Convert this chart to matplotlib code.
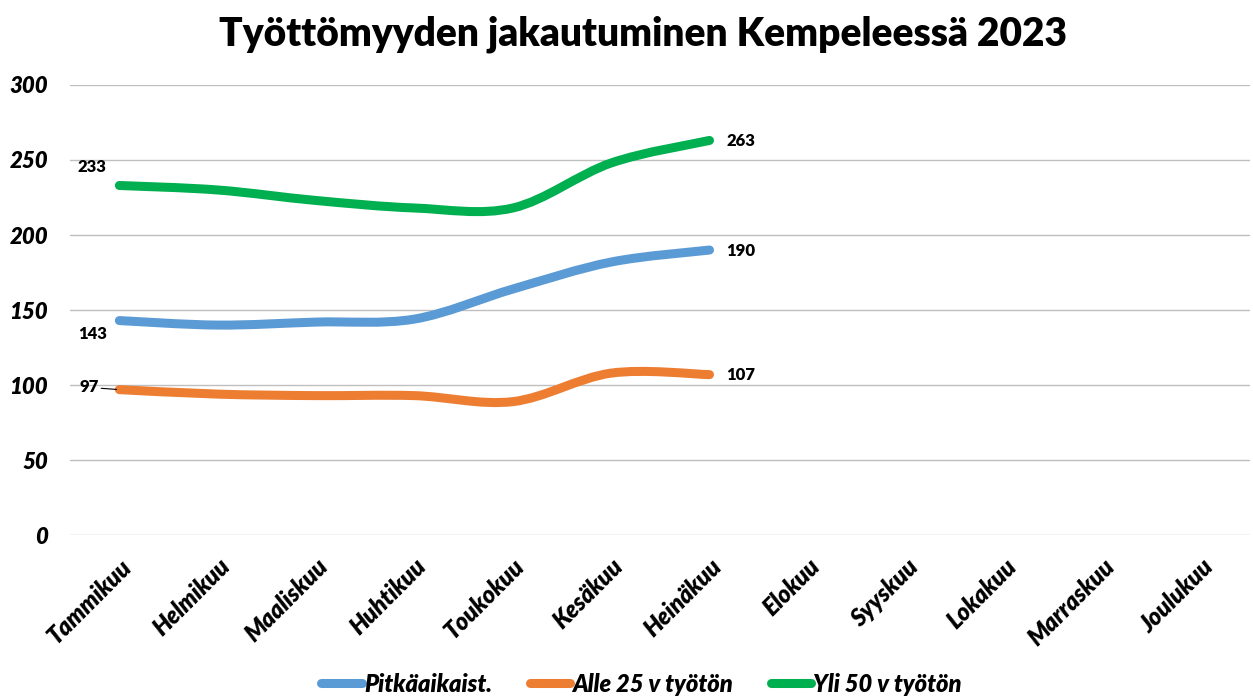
import matplotlib.pyplot as plt
from matplotlib.path import Path
from matplotlib.patches import PathPatch
from matplotlib.lines import Line2D

months = ["Tammikuu", "Helmikuu", "Maaliskuu", "Huhtikuu", "Toukokuu", "Kesäkuu",
          "Heinäkuu", "Elokuu", "Syyskuu", "Lokakuu", "Marraskuu", "Joulukuu"]
pitka = [143, 140, 142, 144, 164, 182, 190]
alle25 = [97, 94, 93, 93, 89, 108, 107]
yli50 = [233, 230, 223, 218, 218, 248, 263]

series_names = ["Pitkäaikaist.", "Alle 25 v työtön", "Yli 50 v työtön"]
colors = ["#5B9BD5", "#ED7D31", "#00B050"]

plt.rcParams['font.family'] = ['Lato', 'DejaVu Sans']

fig = plt.figure(figsize=(12.53, 6.96), dpi=100)
ax = fig.add_axes([0.056, 0.231, 0.942, 0.647])


def smooth_path(ys):
    # excel style smoothed line: bezier segments through the data points
    xs = list(range(len(ys)))
    verts = [(xs[0], ys[0])]
    codes = [Path.MOVETO]
    n = len(ys)
    for i in range(n - 1):
        p0 = (xs[max(i - 1, 0)], ys[max(i - 1, 0)])
        p1 = (xs[i], ys[i])
        p2 = (xs[i + 1], ys[i + 1])
        p3 = (xs[min(i + 2, n - 1)], ys[min(i + 2, n - 1)])
        c1 = (p1[0] + (p2[0] - p0[0]) / 6, p1[1] + (p2[1] - p0[1]) / 6)
        c2 = (p2[0] - (p3[0] - p1[0]) / 6, p2[1] - (p3[1] - p1[1]) / 6)
        verts += [c1, c2, p2]
        codes += [Path.CURVE4] * 3
    return Path(verts, codes)


for ys, col in zip([pitka, alle25, yli50], colors):
    ax.add_patch(PathPatch(smooth_path(ys), facecolor='none', edgecolor=col,
                           lw=6.5, capstyle='round', joinstyle='round', zorder=3))

ax.set_xlim(-0.5, len(months) - 0.5)
ax.set_ylim(0, 300)
ax.set_yticks(range(0, 301, 50))
ax.yaxis.grid(True, color='#bfbfbf', lw=1)
ax.set_axisbelow(True)
for s in ax.spines.values():
    s.set_visible(False)
ax.tick_params(length=0)
ax.tick_params(axis='y', pad=16)
ax.set_yticklabels([str(v) for v in range(0, 301, 50)], fontsize=16,
                   fontweight='heavy', fontstyle='italic')
ax.set_xticks(range(len(months)))
ax.set_xticklabels(months, rotation=45, ha='right', rotation_mode='anchor',
                   fontsize=17, fontweight='heavy', fontstyle='italic')
ax.tick_params(axis='x', pad=14)

# data labels at first and last point
lab = dict(fontsize=12, fontweight='heavy', zorder=4)
last = len(pitka) - 1
ax.annotate(str(yli50[0]), (0, yli50[0]), xytext=(-30, 10), textcoords='offset points', **lab)
ax.annotate(str(pitka[0]), (0, pitka[0]), xytext=(-30, -13), textcoords='offset points', **lab)
ax.annotate(str(alle25[0]), (0, alle25[0]), xytext=(-29, -2), textcoords='offset points',
            arrowprops=dict(arrowstyle='-', color='black', lw=0.8, shrinkA=0, shrinkB=2), **lab)
for ys in [yli50, pitka, alle25]:
    ax.annotate(str(ys[last]), (last, ys[last]), xytext=(12, -4),
                textcoords='offset points', **lab)

fig.suptitle("Työttömyyden jakautuminen Kempeleessä 2023", x=0.513, y=0.978,
             fontsize=28, fontweight='heavy')

handles = [Line2D([0], [0], color=c, lw=6.5, solid_capstyle='round') for c in colors]
fig.legend(handles, series_names, loc='lower center', bbox_to_anchor=(0.512, -0.03),
           ncol=3, frameon=False, handlelength=1.7, handletextpad=0.1, columnspacing=1.6,
           prop=dict(size=17, weight='heavy', style='italic'))

fig.savefig("out.png", dpi=100)
